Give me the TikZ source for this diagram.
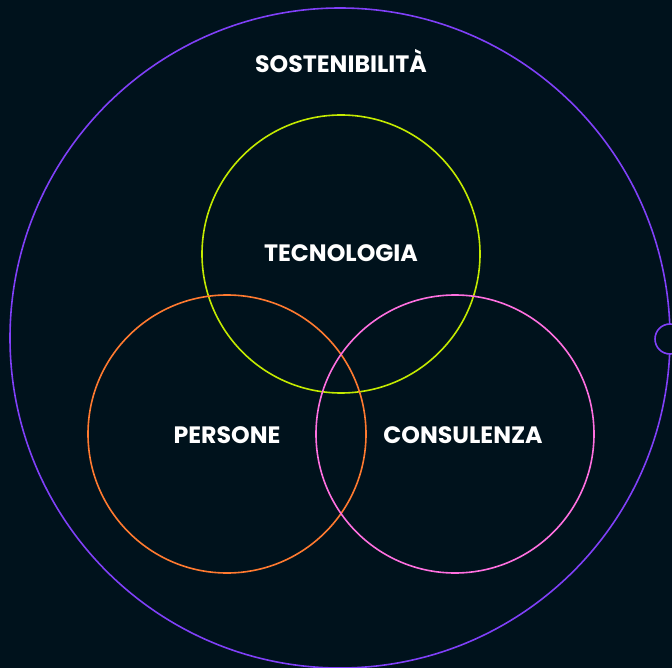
\documentclass[tikz,border=0pt]{standalone}
\usepackage{fontspec}
\setmainfont{Poppins}[BoldFont={* Bold}]
\definecolor{bg}{HTML}{00121C}
\definecolor{cpurple}{HTML}{8040F8}
\definecolor{clime}{HTML}{C4EA00}
\definecolor{corange}{HTML}{FF7A30}
\definecolor{cpink}{HTML}{FF70E0}
\tikzset{
  ring/.style={circle, draw, line width=1.6pt, minimum size=278pt, inner sep=0pt},
  lbl/.style={text=white, font=\bfseries\fontsize{23.7}{26}\selectfont}
}
\begin{document}
\begin{tikzpicture}[x=1pt,y=-1pt]
\fill[bg] (0,0) rectangle (672,668);
\useasboundingbox (0,0) rectangle (672,668);
\node[circle, draw=cpurple, line width=1.6pt, minimum size=660pt, inner sep=0pt] (outer) at (340,338) {};
\node[circle, draw=cpurple, fill=bg, line width=1.6pt, minimum size=30pt, inner sep=0pt] (knob) at (670,339) {};
\node[ring, draw=clime] (tec) at (341,254) {};
\node[ring, draw=corange] (per) at (227,434) {};
\node[ring, draw=cpink] (con) at (455,434) {};
\node[lbl] (tsost) at (341,61) {SOSTENIBILITÀ};
\node[lbl] (ttec) at (341,253) {TECNOLOGIA};
\node[lbl] (tper) at (227,435) {PERSONE};
\node[lbl] (tcon) at (463,435) {CONSULENZA};
\end{tikzpicture}
\end{document}
